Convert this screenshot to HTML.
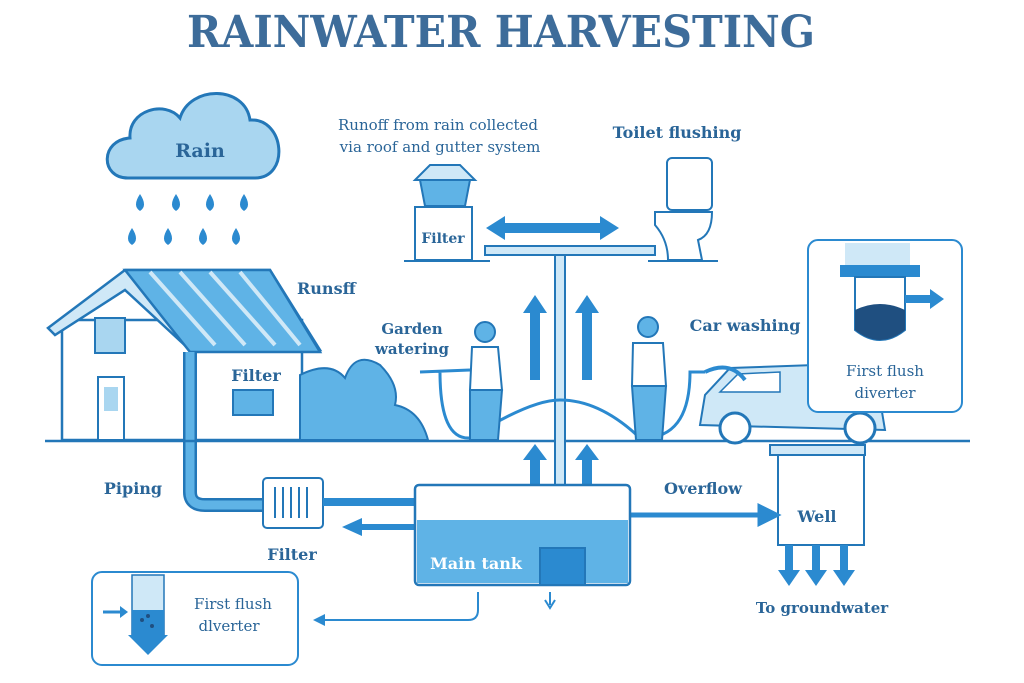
<!DOCTYPE html>
<html><head><meta charset="utf-8"><style>
html,body{margin:0;padding:0;background:#fff;}
svg{display:block;}
text{font-family:"DejaVu Serif","Liberation Serif",serif;fill:#2a6598;}
</style></head><body>
<svg width="1024" height="683" viewBox="0 0 1024 683" xmlns="http://www.w3.org/2000/svg">
<text x="187" y="47" font-size="44" font-weight="bold" style="fill:#3d6c9a" textLength="628" lengthAdjust="spacingAndGlyphs">RAINWATER HARVESTING</text>

<!-- cloud -->
<path d="M128,178 C100,178 100,140 130,138 C128,110 165,100 180,118 C190,85 245,85 250,120 C285,118 290,178 255,178 Z" fill="#a9d6f0" stroke="#2377b8" stroke-width="3"/>
<text x="200" y="157" text-anchor="middle" font-size="19" font-weight="bold">Rain</text>
<g fill="#2b8ad0">
<path d="M140,194 q-8,12 0,17 q8,-5 0,-17z"/><path d="M176,194 q-8,12 0,17 q8,-5 0,-17z"/><path d="M210,194 q-8,12 0,17 q8,-5 0,-17z"/><path d="M244,194 q-8,12 0,17 q8,-5 0,-17z"/>
<path d="M132,228 q-8,12 0,17 q8,-5 0,-17z"/><path d="M168,228 q-8,12 0,17 q8,-5 0,-17z"/><path d="M203,228 q-8,12 0,17 q8,-5 0,-17z"/><path d="M236,228 q-8,12 0,17 q8,-5 0,-17z"/>
</g>

<!-- house -->
<rect x="62" y="320" width="240" height="120" fill="#fff" stroke="#2377b8" stroke-width="2.5"/>
<path d="M48,328 L125,270 L270,270 L320,350 L190,350 L125,290 L55,335 Z" fill="#cfe8f7" stroke="#2377b8" stroke-width="2.5"/>
<path d="M125,270 L270,270 L320,352 L190,352 Z" fill="#5fb3e6" stroke="#2377b8" stroke-width="2.5"/>
<g stroke="#cfe8f7" stroke-width="4"><line x1="150" y1="272" x2="215" y2="345"/><line x1="180" y1="272" x2="245" y2="345"/><line x1="210" y1="272" x2="275" y2="345"/><line x1="240" y1="272" x2="300" y2="345"/></g>
<rect x="95" y="318" width="30" height="35" fill="#a9d6f0" stroke="#2377b8" stroke-width="2"/>
<rect x="98" y="377" width="26" height="63" fill="#fff" stroke="#2377b8" stroke-width="2"/>
<rect x="104" y="387" width="14" height="24" fill="#a9d6f0"/>
<rect x="233" y="390" width="40" height="25" fill="#5fb3e6" stroke="#2377b8" stroke-width="2"/>
<text x="256" y="381" text-anchor="middle" font-size="16" font-weight="bold">Filter</text>
<path d="M190,352 L190,492 Q190,505 205,505 L262,505" fill="none" stroke="#2377b8" stroke-width="14"/>
<path d="M190,352 L190,492 Q190,505 205,505 L262,505" fill="none" stroke="#5fb3e6" stroke-width="9"/>
<text x="297" y="294" font-size="16" font-weight="bold">Runsff</text>

<!-- bush -->
<path d="M300,440 L300,375 Q330,360 345,378 Q355,350 380,365 Q400,385 395,405 Q420,410 428,440 Z" fill="#5fb3e6" stroke="#2377b8" stroke-width="2"/>
<text x="412" y="334" text-anchor="middle" font-size="15" font-weight="bold">Garden</text>
<text x="412" y="354" text-anchor="middle" font-size="15" font-weight="bold">watering</text>

<line x1="45" y1="441" x2="970" y2="441" stroke="#2377b8" stroke-width="2.5"/>

<!-- top filter & toilet -->
<text x="438" y="130" text-anchor="middle" font-size="15">Runoff from rain collected</text>
<text x="440" y="152" text-anchor="middle" font-size="15">via roof and gutter system</text>
<text x="677" y="138" text-anchor="middle" font-size="16" font-weight="bold">Toilet flushing</text>
<path d="M415,180 L430,165 L460,165 L475,180 Z" fill="#cfe8f7" stroke="#2377b8" stroke-width="2"/>
<path d="M420,180 L470,180 L465,206 L425,206 Z" fill="#5fb3e6" stroke="#2377b8" stroke-width="2"/>
<rect x="415" y="207" width="57" height="53" fill="#fff" stroke="#2377b8" stroke-width="2"/>
<text x="443" y="243" text-anchor="middle" font-size="14" font-weight="bold">Filter</text>
<line x1="404" y1="261" x2="490" y2="261" stroke="#2377b8" stroke-width="2"/>
<rect x="667" y="158" width="45" height="52" rx="5" fill="#fff" stroke="#2377b8" stroke-width="2"/>
<path d="M655,212 L712,212 Q712,235 698,240 L702,260 L668,260 Q668,240 655,225 Z" fill="#fff" stroke="#2377b8" stroke-width="2"/>
<line x1="648" y1="261" x2="718" y2="261" stroke="#2377b8" stroke-width="2"/>
<path d="M486,228 L505,216 L505,223 L600,223 L600,216 L619,228 L600,240 L600,233 L505,233 L505,240 Z" fill="#2b8ad0"/>
<rect x="485" y="246" width="170" height="9" fill="#cfe8f7" stroke="#2377b8" stroke-width="2"/>
<rect x="555" y="255" width="10" height="300" fill="#cfe8f7" stroke="#2377b8" stroke-width="2"/>
<g fill="#2b8ad0">
<path d="M530,380 L530,313 L523,313 L535,295 L547,313 L540,313 L540,380 Z"/>
<path d="M582,380 L582,313 L575,313 L587,295 L599,313 L592,313 L592,380 Z"/>
<path d="M530,505 L530,460 L523,460 L535,444 L547,460 L540,460 L540,505 Z"/>
<path d="M582,505 L582,460 L575,460 L587,444 L599,460 L592,460 L592,505 Z"/>
</g>
<path d="M420,372 L470,370 M440,372 Q440,440 470,438 Q530,400 560,400 Q600,400 640,438 Q690,440 690,372 L705,372" fill="none" stroke="#2b8ad0" stroke-width="3"/>
<g fill="#fff" stroke="#2377b8" stroke-width="2">
<circle cx="485" cy="332" r="10" fill="#5fb3e6"/>
<path d="M472,347 L498,347 L502,390 L470,390 Z"/>
<path d="M470,390 L502,390 L498,440 L470,440 Z" fill="#5fb3e6"/>
<circle cx="648" cy="327" r="10" fill="#5fb3e6"/>
<path d="M633,343 L663,343 L666,386 L632,386 Z"/>
<path d="M632,386 L666,386 L662,440 L636,440 Z" fill="#5fb3e6"/>
</g>
<text x="745" y="331" text-anchor="middle" font-size="16" font-weight="bold">Car washing</text>
<path d="M700,425 L705,395 L730,368 L815,365 L830,390 L880,400 L885,430 Z" fill="#cfe8f7" stroke="#2377b8" stroke-width="2"/>
<path d="M720,392 L738,374 L780,372 L780,392 Z" fill="#fff" stroke="#2377b8" stroke-width="1.5"/>
<path d="M705,372 Q730,360 745,380" fill="none" stroke="#2b8ad0" stroke-width="4"/>
<circle cx="735" cy="428" r="15" fill="#fff" stroke="#2377b8" stroke-width="3"/>
<circle cx="860" cy="428" r="15" fill="#fff" stroke="#2377b8" stroke-width="3"/>

<rect x="808" y="240" width="154" height="172" rx="10" fill="#fff" stroke="#2b8ad0" stroke-width="2"/>
<rect x="845" y="243" width="65" height="22" fill="#cfe8f7"/>
<rect x="840" y="265" width="80" height="12" fill="#2b8ad0"/>
<path d="M855,277 L855,330 Q880,350 905,330 L905,277 Z" fill="#fff" stroke="#2377b8" stroke-width="2"/>
<path d="M855,310 Q880,298 905,310 L905,330 Q880,350 855,330 Z" fill="#1f4f80"/>
<path d="M905,295 L930,295 L930,289 L944,299 L930,309 L930,303 L905,303 Z" fill="#2b8ad0"/>
<text x="885" y="376" text-anchor="middle" font-size="15">First flush</text>
<text x="885" y="398" text-anchor="middle" font-size="15">diverter</text>

<rect x="770" y="445" width="95" height="10" fill="#cfe8f7" stroke="#2377b8" stroke-width="2"/>
<rect x="778" y="455" width="86" height="90" fill="#fff" stroke="#2377b8" stroke-width="2"/>
<text x="817" y="522" text-anchor="middle" font-size="16" font-weight="bold">Well</text>
<g fill="#2b8ad0">
<path d="M785,545 L793,545 L793,570 L800,570 L789,586 L778,570 L785,570Z"/>
<path d="M812,545 L820,545 L820,570 L827,570 L816,586 L805,570 L812,570Z"/>
<path d="M840,545 L848,545 L848,570 L855,570 L844,586 L833,570 L840,570Z"/>
</g>
<text x="822" y="613" text-anchor="middle" font-size="15" font-weight="bold">To groundwater</text>
<text x="703" y="494" text-anchor="middle" font-size="16" font-weight="bold">Overflow</text>
<path d="M630,515 L760,515 L760,507 L776,515 L760,523 L760,515" fill="#2b8ad0" stroke="#2b8ad0" stroke-width="5"/>

<rect x="263" y="478" width="60" height="50" rx="4" fill="#fff" stroke="#2377b8" stroke-width="2"/>
<g stroke="#2377b8" stroke-width="2"><line x1="275" y1="487" x2="275" y2="518"/><line x1="283" y1="487" x2="283" y2="518"/><line x1="291" y1="487" x2="291" y2="518"/><line x1="299" y1="487" x2="299" y2="518"/><line x1="307" y1="487" x2="307" y2="518"/></g>
<text x="292" y="560" text-anchor="middle" font-size="16" font-weight="bold">Filter</text>
<text x="133" y="494" text-anchor="middle" font-size="16" font-weight="bold">Piping</text>
<path d="M323,502 L445,502 Q460,502 460,515" fill="none" stroke="#2b8ad0" stroke-width="8"/>
<path d="M450,515 L470,515 L460,528 Z" fill="#2b8ad0"/>
<path d="M415,527 L360,527" stroke="#2b8ad0" stroke-width="6"/>
<path d="M362,518 L342,527 L362,536 Z" fill="#2b8ad0"/>

<rect x="415" y="485" width="215" height="100" rx="4" fill="#fff" stroke="#2377b8" stroke-width="2.5"/>
<path d="M417,520 L628,520 L628,583 L417,583 Z" fill="#5fb3e6"/>
<rect x="540" y="548" width="45" height="37" fill="#2b8ad0" stroke="#2377b8" stroke-width="2"/>
<text x="476" y="569" text-anchor="middle" font-size="16" font-weight="bold" style="fill:#fff">Main tank</text>
<path d="M550,592 L550,605 M545,600 L550,608 L555,600" stroke="#2b8ad0" stroke-width="2" fill="none"/>
<path d="M478,592 L478,610 Q478,620 468,620 L320,620" fill="none" stroke="#2b8ad0" stroke-width="2"/>
<path d="M325,614 L313,620 L325,626 Z" fill="#2b8ad0"/>

<rect x="92" y="572" width="206" height="93" rx="10" fill="#fff" stroke="#2b8ad0" stroke-width="2"/>
<rect x="132" y="575" width="32" height="60" fill="#cfe8f7" stroke="#2377b8" stroke-width="1.5"/>
<rect x="132" y="610" width="32" height="25" fill="#2b8ad0"/>
<circle cx="142" cy="620" r="2" fill="#1f4f80"/><circle cx="152" cy="626" r="2" fill="#1f4f80"/><circle cx="148" cy="616" r="2" fill="#1f4f80"/>
<path d="M128,635 L168,635 L148,655 Z" fill="#2b8ad0"/>
<path d="M103,612 L122,612" stroke="#2b8ad0" stroke-width="3"/><path d="M120,606 L128,612 L120,618Z" fill="#2b8ad0"/>
<text x="233" y="609" text-anchor="middle" font-size="15">First flush</text>
<text x="229" y="631" text-anchor="middle" font-size="15">dlverter</text>
</svg>
</body></html>
